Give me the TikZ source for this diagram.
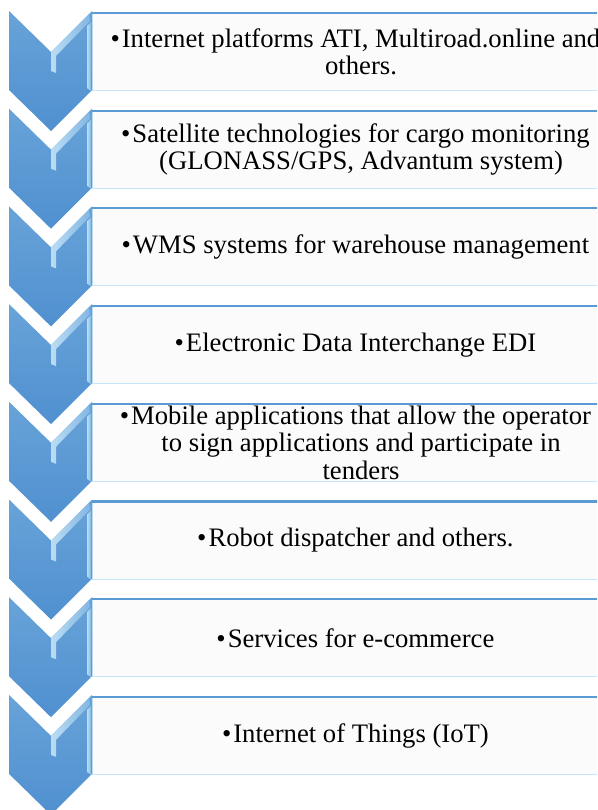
\documentclass[tikz,border=0pt]{standalone}
\usepackage{fontspec}
\setmainfont{Liberation Serif}
\usetikzlibrary{positioning}

\definecolor{chevblue}{HTML}{5B9BD5}
\definecolor{chevdeep}{HTML}{5090D0}
\definecolor{chevlight}{HTML}{D2EEFC}
\definecolor{boxfill}{HTML}{FBFBFB}
\definecolor{boxedge}{HTML}{C6E5F8}

\newcommand{\bul}{•\hspace{1.5pt}}
\newcommand{\hang}{\hphantom{\bul}}

\tikzstyle{listbox} = [rectangle, draw=boxedge, line width=0.6pt, fill=boxfill,
    anchor=north west, inner sep=0pt, minimum width=394.5pt, minimum height=57.75pt]
\tikzstyle{itemtext} = [align=center, inner sep=0pt,
    font=\fontsize{20}{20.6}\selectfont]
\tikzstyle{topedge} = [draw=chevblue, line width=1.6pt]
\tikzstyle{chevron} = [top color=chevblue!92!white, bottom color=chevdeep]
\tikzstyle{bevel} = [left color=chevlight, right color=chevblue!60!chevlight, opacity=0.8]

\begin{document}
\begin{tikzpicture}[x=0.75pt, y=-0.75pt]
  \clip (0,0) rectangle (597,810);
  % Place boxes and chevrons
  \foreach \i/\txt in {
      1/{\bul Internet platforms ATI, Multiroad.online and\\\hang others.},
      2/{\bul Satellite technologies for cargo monitoring\\\hang (GLONASS/GPS, Advantum system)},
      3/{\bul WMS systems for warehouse management},
      4/{\bul Electronic Data Interchange EDI},
      5/{\bul Mobile applications that allow the operator\\\hang to sign applications and participate in\\\hang tenders},
      6/{\bul Robot dispatcher and others.},
      7/{\bul Services for e-commerce},
      8/{\bul Internet of Things (IoT)}}{
    \pgfmathsetmacro{\rowtop}{13+97.7*(\i-1)}
    \node [listbox] (item\i) at (92,\rowtop) {};
    \node [itemtext] (text\i) at (item\i.center) {\txt};
    \path [topedge] (item\i.north west) -- (item\i.north east);
    % chevron on the left
    \shade [chevron] (9,\rowtop-2) -- (51,\rowtop+39) -- (92,\rowtop-2)
      -- (92,\rowtop+77) -- (51,\rowtop+118) -- (9,\rowtop+77) -- cycle;
    \shade [bevel] (51,\rowtop+39) -- (89,\rowtop+1) -- (90,\rowtop+8)
      -- (56,\rowtop+43) -- (56,\rowtop+60) -- (51,\rowtop+58) -- cycle;
    \shade [bevel] (87,\rowtop+13) -- (91,\rowtop+9) -- (91,\rowtop+78)
      -- (87,\rowtop+75) -- cycle;
  }
\end{tikzpicture}
\end{document}
